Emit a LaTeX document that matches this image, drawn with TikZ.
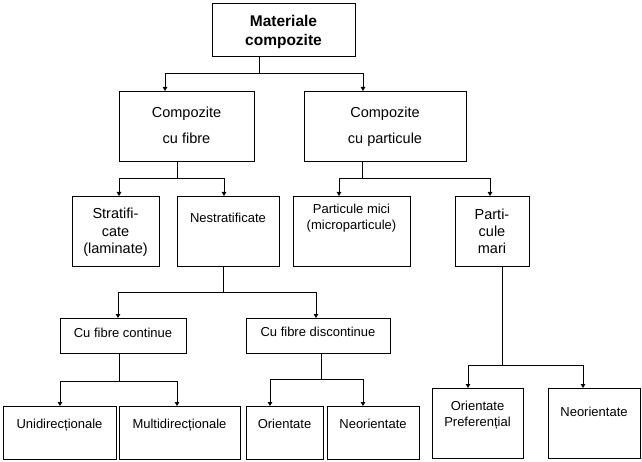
\documentclass[tikz,border=0pt]{standalone}
\usepackage{fontspec}
\setmainfont{Liberation Sans}
\usetikzlibrary{arrows.meta}
\newcommand\mlines[1]{\begin{tabular}[t]{@{}c@{}}#1\end{tabular}}
\setlength\tabcolsep{0pt}
\begin{document}
\begin{tikzpicture}[x=1pt,y=-1pt,
  box/.style={draw, line width=1pt, inner sep=0pt, anchor=north west},
  txtL/.style={anchor=base, inner sep=0pt, font=\fontsize{14.5}{#1}\selectfont},
  txtL/.default=17.5,
  txtS/.style={anchor=base, inner sep=0pt, font=\fontsize{13}{#1}\selectfont},
  txtS/.default=16,
  txtB/.style={anchor=base, inner sep=0pt, font=\fontsize{15.5}{19}\selectfont\bfseries},
  conn/.style={line width=1pt},
  arr/.style={line width=1pt, -{Triangle[length=4pt,width=4.5pt]}}]
\useasboundingbox (0,0) rectangle (642,462);

% boxes
\node[box, minimum width=143pt, minimum height=53pt] (top) at (212,3) {};
\node[box, minimum width=135pt, minimum height=70pt] (cf) at (119,91) {};
\node[box, minimum width=162pt, minimum height=70pt] (cp) at (304,91) {};
\node[box, minimum width=87pt, minimum height=70pt] (strat) at (72,196) {};
\node[box, minimum width=102pt, minimum height=70pt] (nestrat) at (177,196) {};
\node[box, minimum width=117pt, minimum height=70pt] (pmici) at (293,196) {};
\node[box, minimum width=74pt, minimum height=70pt] (pmari) at (455,196) {};
\node[box, minimum width=126pt, minimum height=35pt] (cont) at (60,318) {};
\node[box, minimum width=144pt, minimum height=35pt] (disc) at (246,318) {};
\node[box, minimum width=113pt, minimum height=53pt] (uni) at (3,406) {};
\node[box, minimum width=121pt, minimum height=53pt] (multi) at (119,406) {};
\node[box, minimum width=77pt, minimum height=53pt] (ori) at (246,406) {};
\node[box, minimum width=92pt, minimum height=53pt] (neo) at (327,406) {};
\node[box, minimum width=91pt, minimum height=70pt] (orp) at (432,388) {};
\node[box, minimum width=92pt, minimum height=70pt] (neo2) at (548,388) {};

% texts
\node[txtB] (top-t) at (283.5,27) {\mlines{Materiale\\compozite}};
\node[txtL=26] (cf-t) at (186.5,118) {\mlines{Compozite\\cu fibre}};
\node[txtL=26] (cp-t) at (385,118) {\mlines{Compozite\\cu particule}};
\node[txtL=17.5] (strat-t) at (115.5,219) {\mlines{Stratifi-\\cate\\(laminate)}};
\node[txtS] (nestrat-t) at (228,223) {Nestratificate};
\node[txtS=16] (pmici-t) at (351.5,214) {\mlines{Particule mici\\(microparticule)}};
\node[txtL=17] (pmari-t) at (492,220) {\mlines{Parti-\\cule\\mari}};
\node[txtS] (cont-t) at (123,337) {Cu fibre continue};
\node[txtS] (disc-t) at (318,336) {Cu fibre discontinue};
\node[txtS] (uni-t) at (59.5,428) {Unidirecționale};
\node[txtS] (multi-t) at (179.5,428) {Multidirecționale};
\node[txtS] (ori-t) at (284.5,428) {Orientate};
\node[txtS] (neo-t) at (373,428) {Neorientate};
\node[txtS=16] (orp-t) at (477.5,410) {\mlines{Orientate\\Preferențial}};
\node[txtS] (neo2-t) at (594,416) {Neorientate};

% junctions
\coordinate (j1) at (259,74);  \coordinate (a11) at (165,74);  \coordinate (a12) at (363,74);
\coordinate (j2) at (177,179); \coordinate (a21) at (119,179); \coordinate (a22) at (224,179);
\coordinate (j3) at (362,179); \coordinate (a31) at (339,179); \coordinate (a32) at (490,179);
\coordinate (j4) at (223,292); \coordinate (a41) at (118,292); \coordinate (a42) at (316,292);
\coordinate (j5) at (119,381); \coordinate (a51) at (60,381);  \coordinate (a52) at (177,381);
\coordinate (j6) at (321,379); \coordinate (a61) at (270,379); \coordinate (a62) at (363,379);
\coordinate (j7) at (502,365); \coordinate (a71) at (468,365); \coordinate (a72) at (583,365);

% connectors
\draw[conn] (top.south -| j1) -- (j1);
\draw[arr] (j1) -| (cf.north -| a11);
\draw[arr] (j1) -| (cp.north -| a12);

\draw[conn] (cf.south -| j2) -- (j2);
\draw[arr] (j2) -| (strat.north -| a21);
\draw[arr] (j2) -| (nestrat.north -| a22);

\draw[conn] (cp.south -| j3) -- (j3);
\draw[arr] (j3) -| (pmici.north -| a31);
\draw[arr] (j3) -| (pmari.north -| a32);

\draw[conn] (nestrat.south -| j4) -- (j4);
\draw[arr] (j4) -| (cont.north -| a41);
\draw[arr] (j4) -| (disc.north -| a42);

\draw[conn] (cont.south -| j5) -- (j5);
\draw[arr] (j5) -| (uni.north -| a51);
\draw[arr] (j5) -| (multi.north -| a52);

\draw[conn] (disc.south -| j6) -- (j6);
\draw[arr] (j6) -| (ori.north -| a61);
\draw[arr] (j6) -| (neo.north -| a62);

\draw[conn] (pmari.south -| j7) -- (j7);
\draw[arr] (j7) -| (orp.north -| a71);
\draw[arr] (j7) -| (neo2.north -| a72);
\end{tikzpicture}
\end{document}
